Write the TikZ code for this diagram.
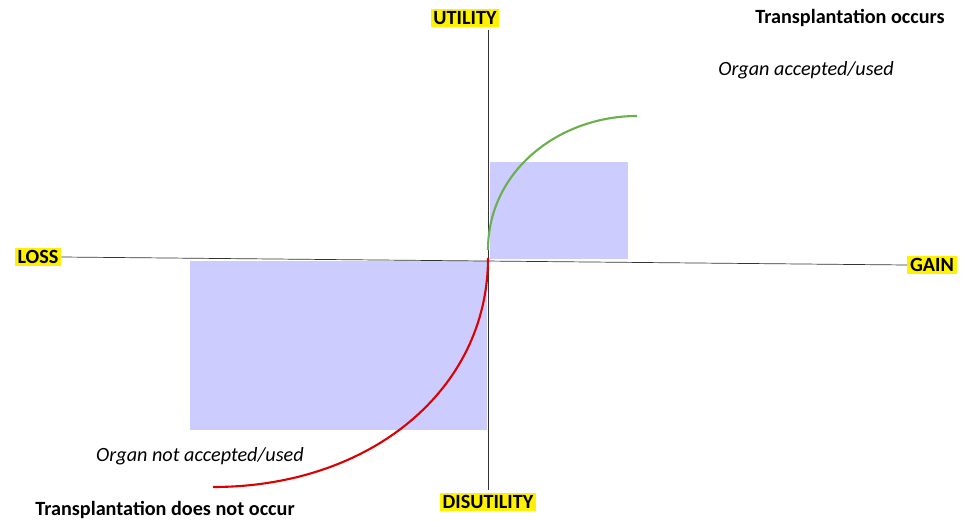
\documentclass[tikz,border=0pt]{standalone}
\usepackage{fontspec}
\setmainfont{Carlito}
\begin{document}
\begin{tikzpicture}[x=0.02cm,y=-0.02cm,
  lab/.style={fill=yellow,inner sep=1.5pt,font=\fontsize{11.5pt}{13pt}\selectfont\bfseries},
  txt/.style={inner sep=0pt,font=\fontsize{11.5pt}{13pt}\selectfont}]
\useasboundingbox (0,0) rectangle (977,527);
\fill[blue!60!cyan!30!white,fill=blue!20] (490,162) rectangle (628,259);
\fill[fill=blue!20] (190,261) rectangle (487,430);
\node[lab] (u) at (465,18) {UTILITY};
\node[lab] (d) at (488,502) {DISUTILITY};
\node[lab] (l) at (38,257) {LOSS};
\node[lab] (g) at (932,265) {GAIN};
\draw[black!80] (488,30) -- (488,490);
\draw[black!80] (l.east) -- (g.west);
\coordinate (o1) at (488,250);
\coordinate (o2) at (488,258);
\draw[green!60!black!80!white,line width=1.2pt,draw={rgb,255:red,106;green,176;blue,76}] (o1) .. controls (488,170) and (560,116) .. (637,116);
\draw[line width=1.2pt,draw={rgb,255:red,220;green,0;blue,0}] (o2) .. controls (488,390) and (370,487) .. (213,487);
\node[txt,font=\fontsize{11.5pt}{13pt}\selectfont\bfseries] (t1) at (850,18) {Transplantation occurs};
\node[txt,font=\fontsize{11.5pt}{13pt}\selectfont\itshape] (t2) at (806,70) {Organ accepted/used};
\node[txt,font=\fontsize{11.5pt}{13pt}\selectfont\itshape] (t3) at (200,456) {Organ not accepted/used};
\node[txt,font=\fontsize{11.5pt}{13pt}\selectfont\bfseries] (t4) at (165,510) {Transplantation does not occur};
\end{tikzpicture}
\end{document}
